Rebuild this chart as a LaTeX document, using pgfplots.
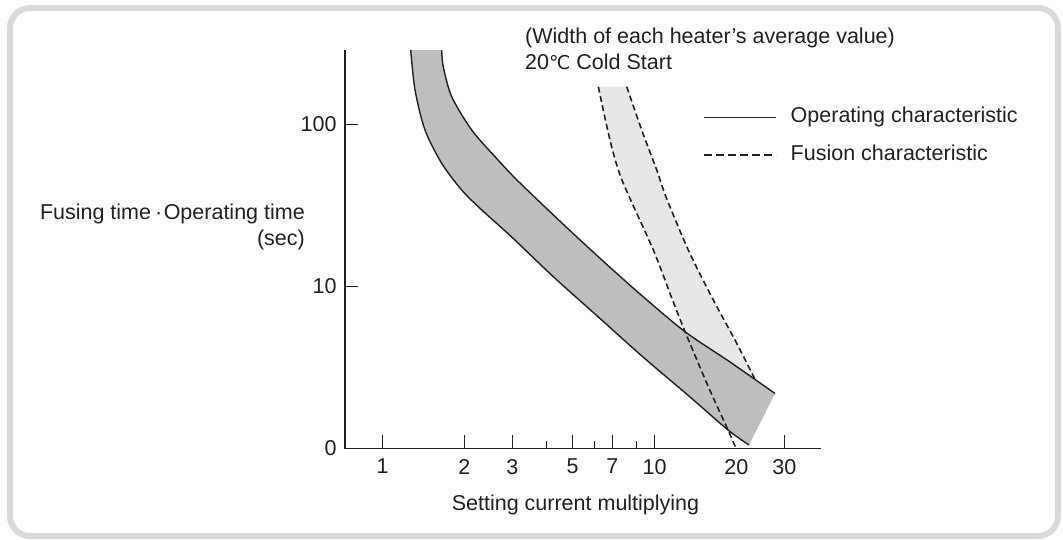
\documentclass[border=0pt]{standalone}
\usepackage{fontspec}
\setmainfont{Liberation Sans}
\newfontfamily\dejavu{DejaVu Sans}
\usepackage{pgfplots}
\pgfplotsset{compat=1.18}
\usepgfplotslibrary{fillbetween}
\definecolor{band}{HTML}{BCBEC0}
\definecolor{lightband}{HTML}{E6E7E8}
\definecolor{ink}{HTML}{231F20}
\definecolor{framec}{HTML}{D9D9D9}
\newcommand{\chartfont}{\fontsize{21.5pt}{25pt}\selectfont}
\begin{document}
\begin{tikzpicture}[x=1pt,y=1pt,font=\chartfont]
\path (0,0) rectangle (1063,539);
\draw[framec, line width=6pt, rounded corners=20pt] (10,3) rectangle (1058,531);
\begin{axis}[
  at={(345pt,90.5pt)}, anchor=south west,
  scale only axis, width=475.7pt, height=398.5pt,
  xmode=log, ymode=log,
  xmin=0.7281, xmax=40.83, ymin=1, ymax=288.4,
  axis x line=bottom, axis y line=left,
  axis line style={-, ink, line width=1.3pt},
  tick align=inside, major tick length=13.5pt, minor tick length=7.5pt,
  every tick/.style={ink, line width=1.3pt},
  xtick={1,2,3,5,7,10,30}, xticklabels={1,2,3,5,7,10,30},
  minor xtick={4,6,8.6},
  extra x ticks={20}, extra x tick labels={20},
  extra x tick style={tick style={draw=none}},
  ytick={1,10,100}, yticklabels={0,10,100},
  yminorticks=false,
  xticklabel style={font=\chartfont, text=ink, yshift=-7pt},
  yticklabel style={font=\chartfont, text=ink, xshift=-5pt},
  set layers,
  legend cell align=left,
  legend style={at={(0.7532,0.8556)}, anchor=north west, draw=none, fill=none,
    inner sep=0pt, outer sep=0pt, column sep=14pt, row sep=18.2pt,
    font=\chartfont, text=ink,
    nodes={inner sep=0pt, text height=15pt, text depth=4.5pt}},
  legend image code/.code={\draw[#1] (0pt,0pt) -- (72pt,0pt);},
]
% operating characteristic, upper and lower edges
\addplot[name path=up, ink, line width=1.4pt, smooth, forget plot] coordinates {
 (1.651,288.4) (1.673,227.4) (1.797,148.5) (2.128,92.5) (2.592,63.3) (3.123,45.4)
 (4.609,24.3) (6.467,14.37) (8.845,8.99) (12.95,5.26) (18.95,3.42) (27.73,2.186)};
\addplot[name path=lo, ink, line width=1.4pt, smooth, forget plot] coordinates {
 (1.270,288.4) (1.317,163.3) (1.433,92.5) (1.651,57.6) (1.955,39.4) (2.316,29.7)
 (2.985,20.2) (4.247,11.49) (6.305,6.345) (9.072,3.672) (13.51,2.079) (18.63,1.301) (22.26,1.051)};
% fusion characteristic
\addplot[name path=ldfill, draw=none, smooth, forget plot] coordinates {
 (6.215,171.1) (6.861,80.2) (7.594,45.4) (9.90,16.8) (11.57,8.49) (12.95,5.26) (15.77,2.407) (18.63,1.301)};
\addplot[name path=ld, ink, line width=1.6pt, dash pattern=on 6pt off 3.5pt, smooth, forget plot] coordinates {
 (6.215,171.1) (6.861,80.2) (7.594,45.4) (9.90,16.8) (11.57,8.49) (12.95,5.26) (15.77,2.407) (18.63,1.301) (19.94,1.0)};
\addplot[name path=rd, ink, line width=1.6pt, dash pattern=on 6pt off 3.5pt, smooth, forget plot] coordinates {
 (7.904,171.1) (8.974,92.5) (10.19,52.4) (11.02,35.8) (13.31,16.8) (16.45,8.26) (20.06,4.46) (23.42,2.667)};
\addplot[lightband, forget plot] fill between[of=ldfill and rd];
\addplot[band, forget plot] fill between[of=up and lo];
\addlegendimage{ink, line width=1.4pt}
\addlegendentry{Operating characteristic}
\addlegendimage{ink, line width=1.4pt, dash pattern=on 8pt off 4pt}
\addlegendentry{Fusion characteristic}
\end{axis}
\node[anchor=base east, inner sep=0pt, text=ink] at (305,319) {Fusing time\hspace{4pt}·\hspace{1.5pt}Operating time};
\node[anchor=base east, inner sep=0pt, text=ink] at (305,294) {(sec)};
\node[anchor=base west, inner sep=0pt, text=ink] at (525,495) {(Width of each heater’s average value)};
\node[anchor=base west, inner sep=0pt, text=ink] at (525,469) {20{\dejavu\fontsize{19pt}{20pt}\selectfont ℃} Cold Start};
\node[anchor=base, inner sep=0pt, text=ink] at (575.5,28.3) {Setting current multiplying};
\end{tikzpicture}
\end{document}
